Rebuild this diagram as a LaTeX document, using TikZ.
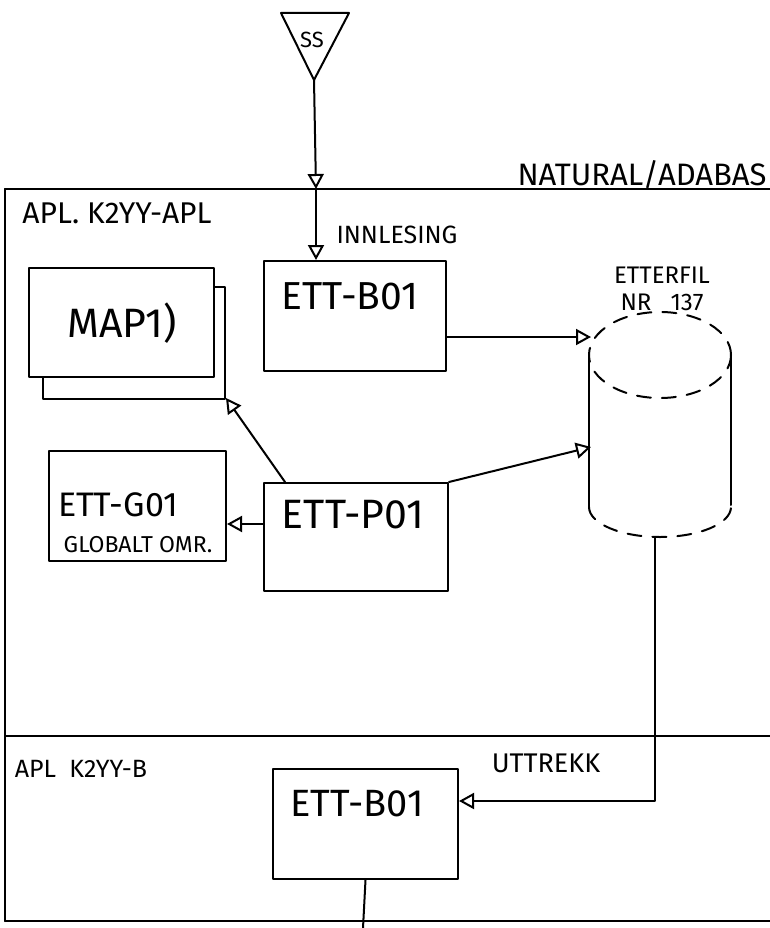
\documentclass[tikz,border=0pt]{standalone}
\usepackage{fontspec}
\setmainfont{Fira Sans}
\usetikzlibrary{arrows.meta}
\newcommand\fsz[1]{\fontsize{#1}{#1}\selectfont}
\tikzset{
  ln/.style={line width=2pt, line cap=round, line join=round},
  arr/.style={ln, -{Triangle[open, length=15pt, width=16pt]}},
  box/.style={ln, draw, rectangle, inner sep=0pt, anchor=north west},
  txt/.style={inner sep=0pt, text=black},
  dsh/.style={ln, dash pattern=on 14pt off 11pt},
}
\begin{document}
\begin{tikzpicture}[x=1pt,y=-1pt]
\useasboundingbox (0,0) rectangle (770,928);
% frame
\draw[ln] (5,189) -- (770,189);
\draw[ln] (5,189) -- (5,921);
\draw[ln] (5,736) -- (770,736);
\draw[ln] (5,921) -- (770,921);
\node[txt] (nat) at (642,175) {\fsz{31}NATURAL/ADABAS};
\node[txt] (apl1) at (117,213) {\fsz{30}APL. K2YY-APL};
\node[txt] (apl2) at (81,769) {\fsz{25}APL\ \ K2YY-B};
% off-page connector triangle
\draw[ln] (281,13) -- (349,13) -- (314,80) -- cycle;
\coordinate (tri) at (314,80);
\node[txt] (ss) at (312,40) {\fsz{22}SS};
\coordinate (ftop) at (316,189);
% boxes
\node[box, minimum width=182pt, minimum height=112pt] (msh) at (42,286) {};
\node[box, fill=white, minimum width=185pt, minimum height=109pt] (map) at (28,267) {};
\node[txt] (maptx) at (122,323) {\fsz{41}MAP1)};
\node[box, minimum width=182pt, minimum height=110pt] (b1) at (263,260) {};
\node[txt] (b1tx) at (350,296) {\fsz{39}ETT-B01};
\node[box, minimum width=177pt, minimum height=110pt] (g1) at (48,450) {};
\node[txt] (g1tx) at (118,505) {\fsz{34}ETT-G01};
\node[txt] (g1tx2) at (138,545) {\fsz{23}GLOBALT OMR.};
\node[box, minimum width=184pt, minimum height=108pt] (p1) at (263,482) {};
\node[txt] (p1tx) at (353,515) {\fsz{41}ETT-P01};
\node[box, minimum width=185pt, minimum height=110pt] (b2) at (272,768) {};
\node[txt] (b2tx) at (357,804) {\fsz{38}ETT-B01};
\node[txt] (inn) at (397,235) {\fsz{25}INNLESING};
\node[txt] (utt) at (546,763) {\fsz{27}UTTREKK};
% cylinder
\draw[dsh] (660,355) ellipse [x radius=71, y radius=43];
\draw[ln] (589,357) -- (589,507);
\draw[ln] (731,355) -- (731,505);
\draw[dsh] (589,507) arc[start angle=180, end angle=0, x radius=71, y radius=30];
\node[txt, align=center, font=\fontsize{24}{27}\selectfont] (cyl) at (662,289) {ETTERFIL\\NR\ \ \ 137};
\coordinate (cylA) at (591,337);
\coordinate (cylB) at (591,447);
\coordinate (cylC) at (655,537);
\coordinate (shc) at (226,398);
\coordinate (pend) at (363,928);
% connectors
\draw[arr] (tri) -- (ftop);
\draw[arr] (ftop) -- (ftop |- b1.north);
\draw[arr] (b1.east |- cylA) -- (cylA);
\draw[arr] (p1.north east) -- (cylB);
\draw[arr] ([xshift=22pt]p1.north west) -- (shc);
\draw[arr] ([yshift=13pt]p1.west) -- ([yshift=-18pt]g1.east);
\draw[arr] (cylC) |- ([yshift=23pt]b2.east);
\draw[ln] (b2.south) -- (pend);
\end{tikzpicture}
\end{document}
